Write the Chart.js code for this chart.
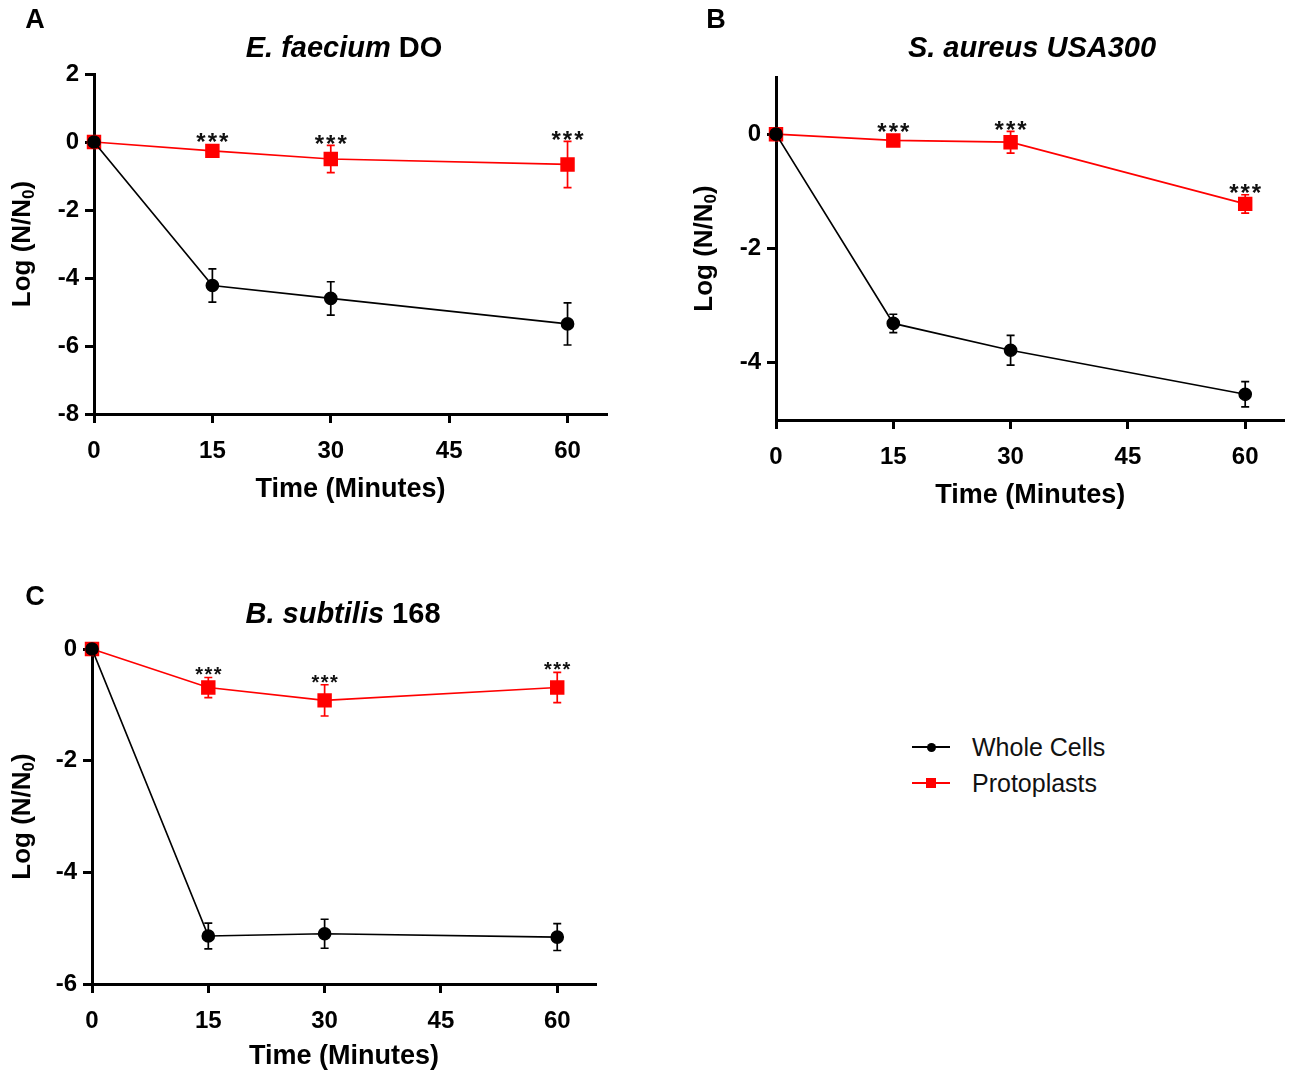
<!DOCTYPE html>
<html>
<head>
<meta charset="utf-8">
<script src="https://cdn.jsdelivr.net/npm/chart.js@4.4.0/dist/chart.umd.min.js"></script>
<style>
  body { margin: 0; background: #fff; width: 1295px; height: 1070px; position: relative; overflow: hidden;
         font-family: "Liberation Sans", Arial, sans-serif; }
  canvas { position: absolute; }
  #legend { position: absolute; left: 912px; top: 729px; }
  .item { position: relative; height: 36px; width: 280px; }
  .item .ln { position: absolute; left: 0; top: 17px; width: 38px; height: 2px; }
  .item .mk { position: absolute; }
  .item .tx { position: absolute; left: 60px; top: 3px; font-size: 25px; line-height: 30px; color: #111; }
</style>
</head>
<body>
<canvas id="chartA" width="650" height="530" style="left:0;top:0"></canvas>
<canvas id="chartB" width="615" height="530" style="left:680px;top:0"></canvas>
<canvas id="chartC" width="650" height="500" style="left:0;top:570px"></canvas>
<div id="legend"></div>

<script>
// time points (minutes) and axis ticks
const TIME = [0, 15, 30, 60];
const X_TICKS = [0, 15, 30, 45, 60];

// E. faecium DO
const A_WHOLE = [0, -4.22, -4.6, -5.35];
const A_WHOLE_ERR = [0, 0.49, 0.49, 0.62];
const A_PROTO = [0, -0.26, -0.5, -0.66];
const A_PROTO_ERR = [0, 0.04, 0.4, 0.68];
const A_Y_TICKS = [-8, -6, -4, -2, 0, 2];

// S. aureus USA300
const B_WHOLE = [0, -3.31, -3.78, -4.55];
const B_WHOLE_ERR = [0, 0.16, 0.26, 0.22];
const B_PROTO = [0, -0.11, -0.14, -1.22];
const B_PROTO_ERR = [0, 0.04, 0.19, 0.16];
const B_Y_TICKS = [-4, -2, 0];

// B. subtilis 168
const C_WHOLE = [0, -5.14, -5.1, -5.16];
const C_WHOLE_ERR = [0, 0.23, 0.26, 0.24];
const C_PROTO = [0, -0.69, -0.92, -0.69];
const C_PROTO_ERR = [0, 0.18, 0.28, 0.27];
const C_Y_TICKS = [-6, -4, -2, 0];

// which protoplast points get "***"
const STARRED = [1, 2, 3];

const FONT = '"Liberation Sans", Arial, sans-serif';
const RED = '#ff0000';

function pts(vals) {
  return TIME.map((t, i) => ({ x: t, y: vals[i] }));
}

// error bars, significance stars, titles and axis titles
const overlay = {
  id: 'overlay',
  afterDatasetsDraw(chart, args, o) {
    const ctx = chart.ctx;
    const ys = chart.scales.y;
    const area = chart.chartArea;
    ctx.save();

    chart.data.datasets.forEach((ds, di) => {
      const meta = chart.getDatasetMeta(di);
      ctx.strokeStyle = ds.borderColor;
      ctx.lineWidth = 1.7;
      ds.errors.forEach((e, i) => {
        if (!e) return;
        const p = meta.data[i];
        const v = ds.data[i].y;
        const top = ys.getPixelForValue(v + e);
        const bot = ys.getPixelForValue(v - e);
        ctx.beginPath();
        ctx.moveTo(p.x, top); ctx.lineTo(p.x, bot);
        ctx.moveTo(p.x - 4, top); ctx.lineTo(p.x + 4, top);
        ctx.moveTo(p.x - 4, bot); ctx.lineTo(p.x + 4, bot);
        ctx.stroke();
      });
    });

    // stars over the protoplast series
    const proto = chart.data.datasets[1];
    const pm = chart.getDatasetMeta(1);
    ctx.fillStyle = '#111';
    ctx.font = 'bold ' + o.starSize + 'px ' + FONT;
    ctx.letterSpacing = o.starGap + 'px';
    ctx.textAlign = 'center';
    ctx.textBaseline = 'alphabetic';
    STARRED.forEach(i => {
      const p = pm.data[i];
      const v = proto.data[i].y;
      const top = Math.min(ys.getPixelForValue(v + proto.errors[i]), p.y - 7);
      const c = top - 8;
      ctx.fillText('***', p.x + o.starGap / 2, c + o.starSize * 0.6);
    });
    ctx.letterSpacing = '0px';

    // panel letter
    ctx.fillStyle = '#000';
    ctx.font = 'bold 27px ' + FONT;
    ctx.textBaseline = 'middle';
    ctx.fillText(o.letter, o.letterPos[0], o.letterPos[1]);

    // title with italic parts
    let w = 0;
    const segFont = s => (s.italic ? 'italic ' : '') + 'bold 29px ' + FONT;
    o.title.forEach(s => { ctx.font = segFont(s); w += ctx.measureText(s.text).width; });
    let x = o.titlePos[0] - w / 2;
    ctx.textAlign = 'left';
    o.title.forEach(s => {
      ctx.font = segFont(s);
      ctx.fillText(s.text, x, o.titlePos[1]);
      x += ctx.measureText(s.text).width;
    });

    // x axis title
    ctx.textAlign = 'center';
    ctx.font = 'bold 27px ' + FONT;
    ctx.fillText('Time (Minutes)', (area.left + area.right) / 2, area.bottom + o.xTitleOff);

    // y axis title with subscript
    ctx.translate(area.left - o.yTitleOff, (area.top + area.bottom) / 2);
    ctx.rotate(-Math.PI / 2);
    const main = 'Log (N/N', sub = '0', end = ')';
    ctx.font = 'bold 26px ' + FONT;
    const w1 = ctx.measureText(main).width, w3 = ctx.measureText(end).width;
    ctx.font = 'bold 17px ' + FONT;
    const w2 = ctx.measureText(sub).width;
    let tx = -(w1 + w2 + w3) / 2;
    ctx.textAlign = 'left';
    ctx.font = 'bold 26px ' + FONT;
    ctx.fillText(main, tx, 0);
    ctx.font = 'bold 17px ' + FONT;
    ctx.fillText(sub, tx + w1, 6);
    ctx.font = 'bold 26px ' + FONT;
    ctx.fillText(end, tx + w1 + w2, 0);
    ctx.restore();
  }
};

function axis(min, max, ticks, fitFn) {
  return {
    type: 'linear',
    min: min,
    max: max,
    afterBuildTicks: s => { s.ticks = ticks.map(v => ({ value: v })); },
    afterFit: fitFn,
    border: { display: true, color: '#000', width: 3 },
    grid: { display: true, drawOnChartArea: false, drawTicks: true, tickLength: 9, tickWidth: 3, tickColor: '#000' },
    ticks: { color: '#000', font: { family: FONT, size: 24, weight: 'bold' }, padding: 6, maxRotation: 0, autoSkip: false }
  };
}

function makeChart(id, cfg) {
  const canvas = document.getElementById(id);
  const W = canvas.width, H = canvas.height;
  const x = axis(0, 65, X_TICKS, s => { s.height = H - cfg.area.bottom; });
  x.ticks.padding = 14;
  const y = axis(cfg.yMin, cfg.yMax, cfg.yTicks, s => { s.width = cfg.area.left; });
  return new Chart(canvas.getContext('2d'), {
    type: 'line',
    data: {
      datasets: [
        {
          label: 'Whole Cells',
          data: pts(cfg.whole),
          errors: cfg.wholeErr,
          borderColor: '#000',
          backgroundColor: '#000',
          borderWidth: 1.7,
          pointStyle: 'circle',
          pointRadius: 6,
          clip: false
        },
        {
          label: 'Protoplasts',
          data: pts(cfg.proto),
          errors: cfg.protoErr,
          borderColor: RED,
          backgroundColor: RED,
          borderWidth: 1.7,
          pointStyle: 'rect',
          pointRadius: 9,
          clip: false
        }
      ]
    },
    options: {
      responsive: false,
      animation: false,
      events: [],
      layout: { padding: { left: 0, top: cfg.area.top, right: W - cfg.area.right, bottom: 0 } },
      plugins: { legend: { display: false }, tooltip: { enabled: false }, overlay: cfg.overlay },
      scales: { x: x, y: y }
    },
    plugins: [overlay]
  });
}

const chartA = makeChart('chartA', {
  area: { left: 94, top: 74, right: 607, bottom: 414 },
  yMin: -8, yMax: 2, yTicks: A_Y_TICKS,
  whole: A_WHOLE, wholeErr: A_WHOLE_ERR, proto: A_PROTO, protoErr: A_PROTO_ERR,
  overlay: {
    letter: 'A', letterPos: [35, 21],
    title: [{ text: 'E. faecium', italic: true }, { text: ' DO', italic: false }],
    titlePos: [344, 49], xTitleOff: 76, yTitleOff: 71, starSize: 24, starGap: 2
  }
});

makeChart('chartB', {
  area: { left: 96, top: 77, right: 610, bottom: 420 },
  yMin: -5, yMax: 1, yTicks: B_Y_TICKS,
  whole: B_WHOLE, wholeErr: B_WHOLE_ERR, proto: B_PROTO, protoErr: B_PROTO_ERR,
  overlay: {
    letter: 'B', letterPos: [36, 21],
    title: [{ text: 'S. aureus USA300', italic: true }],
    titlePos: [352, 49], xTitleOff: 76, yTitleOff: 71, starSize: 24, starGap: 2
  }
});

makeChart('chartC', {
  area: { left: 92, top: 79, right: 596, bottom: 414 },
  yMin: -6, yMax: 0, yTicks: C_Y_TICKS,
  whole: C_WHOLE, wholeErr: C_WHOLE_ERR, proto: C_PROTO, protoErr: C_PROTO_ERR,
  overlay: {
    letter: 'C', letterPos: [35, 28],
    title: [{ text: 'B. subtilis', italic: true }, { text: ' 168', italic: false }],
    titlePos: [343, 45], xTitleOff: 73, yTitleOff: 69, starSize: 20, starGap: 1.5
  }
});

// shared legend built from the first chart's datasets
const legend = document.getElementById('legend');
chartA.data.datasets.forEach(ds => {
  const item = document.createElement('div');
  item.className = 'item';
  const ln = document.createElement('div');
  ln.className = 'ln';
  ln.style.background = ds.borderColor;
  const mk = document.createElement('div');
  mk.className = 'mk';
  const sz = ds.pointStyle === 'rect' ? 10 : 9;
  mk.style.width = sz + 'px';
  mk.style.height = sz + 'px';
  mk.style.left = (19 - sz / 2) + 'px';
  mk.style.top = (18 - sz / 2) + 'px';
  mk.style.background = ds.backgroundColor;
  if (ds.pointStyle === 'circle') mk.style.borderRadius = '50%';
  const tx = document.createElement('div');
  tx.className = 'tx';
  tx.textContent = ds.label;
  item.appendChild(ln);
  item.appendChild(mk);
  item.appendChild(tx);
  legend.appendChild(item);
});
</script>
</body>
</html>
